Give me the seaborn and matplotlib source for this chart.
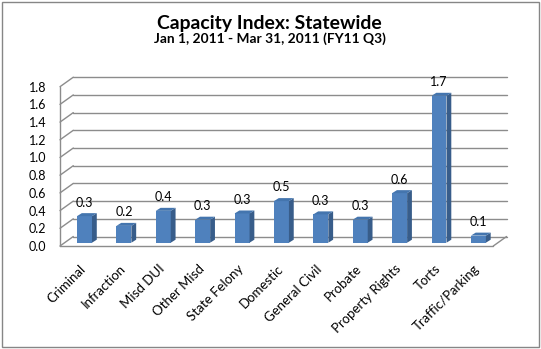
import matplotlib
matplotlib.use("Agg")
import matplotlib.pyplot as plt
from matplotlib.patches import Polygon, Rectangle
import seaborn as sns
import pandas as pd

categories = ["Criminal", "Infraction", "Misd DUI", "Other Misd", "State Felony",
              "Domestic", "General Civil", "Probate", "Property Rights", "Torts",
              "Traffic/Parking"]
capacity = [0.30, 0.19, 0.36, 0.26, 0.33, 0.47, 0.32, 0.26, 0.56, 1.66, 0.08]
y_ticks = [0.0, 0.2, 0.4, 0.6, 0.8, 1.0, 1.2, 1.4, 1.6, 1.8]

title = "Capacity Index: Statewide"
subtitle = "Jan 1, 2011 - Mar 31, 2011 (FY11 Q3)"

FRONT = "#4F81BD"
SIDE = "#385D8A"
TOP = "#4475AE"
GRID = "#8C8C8C"
FONT = "Lato"

sns.set_theme(style="white")
plt.rcParams["font.family"] = [FONT, "DejaVu Sans"]

W, H = 541, 349
fig = plt.figure(figsize=(W / 100, H / 100), dpi=100)

# front plane of the 3-D plot box, in pixels
left_px, right_px, bottom_px, top_px = 60, 493.3, 246, 86.7
ax = fig.add_axes([left_px / W, 1 - bottom_px / H,
                   (right_px - left_px) / W, (bottom_px - top_px) / H])

df = pd.DataFrame({"category": categories, "capacity": capacity})
sns.barplot(data=df, x="category", y="capacity", width=0.38, color=FRONT,
            saturation=1, ax=ax, zorder=3)

n = len(categories)
ax.set_xlim(-0.5, n - 0.5)
ax.set_ylim(0, 1.8)

px_x = (right_px - left_px) / n          # pixels per category
px_y = (bottom_px - top_px) / 1.8        # pixels per unit

# depth of the box (back wall offset) and of each bar, in data units
DX, DY = 13.3 / px_x, 9.5 / px_y
BX, BY = 4.8 / px_x, 3.3 / px_y
SX, SY = 4.8 / px_x, 3.0 / px_y

x0, x1 = -0.5, n - 0.5
line_kw = dict(color=GRID, lw=1.0, clip_on=False, zorder=1)
for t in y_ticks:
    ax.plot([x0 + DX, x1 + DX], [t + DY, t + DY], **line_kw)
    ax.plot([x0, x0 + DX], [t, t + DY], **line_kw)
ax.plot([x0, x0], [0, 1.8], **line_kw)
ax.plot([x0, x1], [0, 0], **line_kw)
ax.plot([x1, x1 + DX], [0, DY], **line_kw)

# give each bar some depth: shift it into the box, add side and top faces
for patch, val in zip(ax.patches, capacity):
    bx = patch.get_x() + BX
    w = patch.get_width()
    h = patch.get_height()
    patch.set_x(bx)
    patch.set_y(BY)
    patch.set_clip_on(False)
    patch.set_edgecolor("none")
    top = BY + h
    side = Polygon([(bx + w, BY), (bx + w + SX, BY + SY), (bx + w + SX, top + SY),
                    (bx + w, top)], closed=True, facecolor=SIDE, edgecolor="none",
                   clip_on=False, zorder=3)
    lid = Polygon([(bx, top), (bx + SX, top + SY), (bx + w + SX, top + SY),
                   (bx + w, top)], closed=True, facecolor=TOP, edgecolor="none",
                  clip_on=False, zorder=3)
    ax.add_patch(side)
    ax.add_patch(lid)
    ax.annotate(f"{val:.1f}", (bx + w / 2, top), xytext=(0, 5.5),
                textcoords="offset points", ha="center", va="bottom",
                fontsize=9, color="black", clip_on=False, zorder=4)

for s in ax.spines.values():
    s.set_visible(False)
ax.set_xlabel("")
ax.set_ylabel("")
ax.set_yticks(y_ticks)
ax.set_yticklabels([f"{t:.1f}" for t in y_ticks], fontsize=9, color="black")
ax.tick_params(axis="y", length=0, pad=10)
ax.set_xticks(range(n))
ax.set_xticklabels(categories, rotation=45, ha="right", rotation_mode="anchor",
                   fontsize=9.5, color="black")
ax.tick_params(axis="x", length=0, pad=12)
ax.grid(False)
ax.patch.set_alpha(0)

title_txt = fig.text(269 / W, 1 - 29 / H, title, ha="center", va="baseline",
                     fontsize=13.5, fontweight="bold", color="black")
sub_txt = fig.text(270 / W, 1 - 42.5 / H, subtitle, ha="center", va="baseline",
                   fontsize=10.5, fontweight="bold", color="black")

# size the heading lines to their intended widths in pixels
renderer = fig.canvas.get_renderer()
for txt, target in ((title_txt, 225), (sub_txt, 232)):
    width = txt.get_window_extent(renderer).width
    txt.set_fontsize(txt.get_fontsize() * target / width)

fig.patches.append(Rectangle((1.5 / W, 2.3 / H), 537 / W, 345.2 / H,
                             transform=fig.transFigure, fill=False,
                             edgecolor="#868686", lw=1.0))

fig.savefig("out.png", dpi=100)
